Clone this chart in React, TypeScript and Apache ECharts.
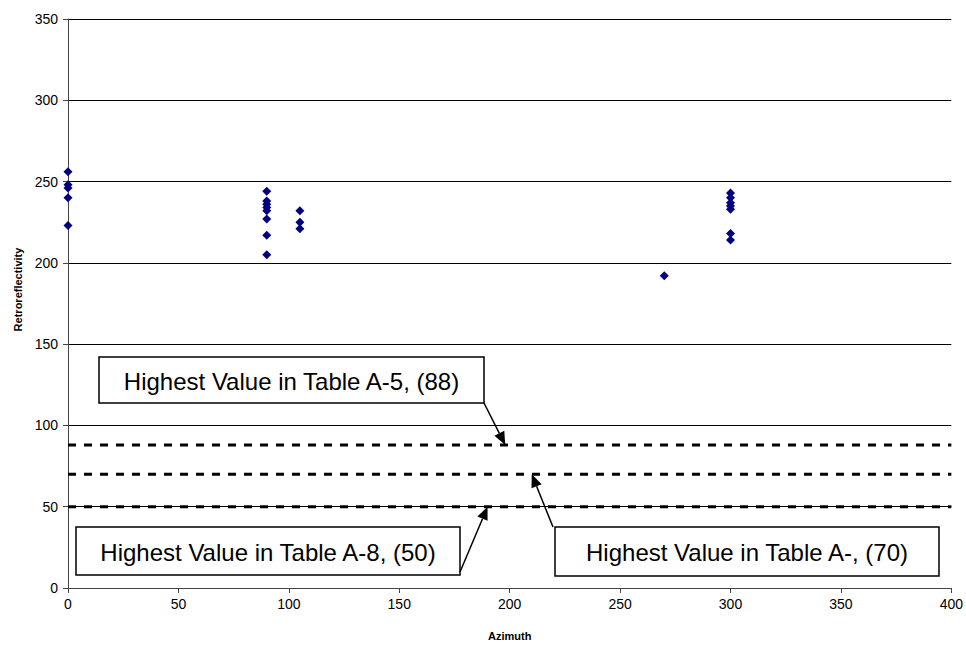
import React, { useEffect, useRef } from "react";
import * as echarts from "echarts";

const azimuthGroups = [0, 90, 105, 270, 300];
const retroValues: number[][] = [
  [256, 248, 246, 240, 223],
  [244, 238, 236, 234, 232, 227, 217, 205],
  [232, 225, 221],
  [192],
  [243, 240, 237, 235, 233, 218, 214],
];
const thresholdValues = [88, 70, 50];
const thresholdLabels = [
  "Highest Value in Table A-5, (88)",
  "Highest Value in Table A-, (70)",
  "Highest Value in Table A-8, (50)",
];
const arrowTipAzimuth = [198, 210, 190];
const yTicks = [0, 50, 100, 150, 200, 250, 300, 350];
const xTicks = [0, 50, 100, 150, 200, 250, 300, 350, 400];

export default function App() {
  const ref = useRef<HTMLDivElement>(null);
  useEffect(() => {
    if (!ref.current) return;
    const chart = echarts.init(ref.current, undefined, { renderer: "svg" });
    const points: number[][] = [];
    azimuthGroups.forEach((az, i) => retroValues[i].forEach((v) => points.push([az, v])));

    const lineSeries = thresholdValues.map((v) => ({
      type: "line",
      data: [[xTicks[0], v], [xTicks[xTicks.length - 1], v]],
      symbol: "none",
      lineStyle: { color: "#000", width: 3, type: [8, 8] },
      z: 3,
    }));

    chart.setOption({
      animation: false,
      grid: { left: 68, right: 14, top: 19, bottom: 53 },
      xAxis: {
        type: "value",
        min: xTicks[0],
        max: xTicks[xTicks.length - 1],
        interval: 50,
        name: "Azimuth",
        nameLocation: "middle",
        nameGap: 42,
        nameTextStyle: { fontFamily: "Liberation Sans", fontSize: 11, fontWeight: "bold", color: "#000" },
        axisLine: { lineStyle: { color: "#444", width: 1 } },
        axisTick: { inside: false, length: 5, lineStyle: { color: "#444" } },
        axisLabel: { fontFamily: "Liberation Sans", fontSize: 14, color: "#000", margin: 9 },
        splitLine: { show: false },
      },
      yAxis: {
        type: "value",
        min: yTicks[0],
        max: yTicks[yTicks.length - 1],
        interval: 50,
        name: "Retroreflectivity",
        nameLocation: "middle",
        nameGap: 44,
        nameTextStyle: {
          fontFamily: "Liberation Sans",
          fontSize: 11,
          fontWeight: "bold",
          color: "#000",
          padding: [0, 0, 0, 28],
        },
        axisLine: { show: true, lineStyle: { color: "#444", width: 1 } },
        axisTick: { show: true, inside: false, length: 5, lineStyle: { color: "#444" } },
        axisLabel: { fontFamily: "Liberation Sans", fontSize: 14, color: "#000", margin: 10 },
        splitLine: { show: true, lineStyle: { color: "#000", width: 1 } },
      },
      series: [
        {
          type: "scatter",
          data: points,
          symbol: "diamond",
          symbolSize: 9,
          itemStyle: { color: "#000080", opacity: 1 },
          z: 4,
        },
        ...lineSeries,
      ],
    });

    const boxes = [
      { x: 99, y: 357, w: 385, h: 46, tail: [484, 403] },
      { x: 555, y: 527, w: 384, h: 49, tail: [553, 527] },
      { x: 76, y: 527, w: 384, h: 48, tail: [460, 572] },
    ];
    const elements: any[] = [];
    boxes.forEach((b, i) => {
      const tip = chart.convertToPixel({ gridIndex: 0 }, [arrowTipAzimuth[i], thresholdValues[i]]);
      elements.push({
        type: "rect",
        shape: { x: b.x, y: b.y, width: b.w, height: b.h },
        style: { fill: "#fff", stroke: "#000", lineWidth: 1.5 },
        z: 10,
      });
      elements.push({
        type: "text",
        x: b.x + b.w / 2,
        y: b.y + b.h / 2 + 1,
        style: {
          text: thresholdLabels[i],
          fontFamily: "Liberation Sans",
          fontSize: 24,
          fill: "#000",
          align: "center",
          verticalAlign: "middle",
        },
        z: 11,
      });
      const [tx, ty] = b.tail;
      const [px, py] = tip;
      const dx = px - tx, dy = py - ty;
      const len = Math.sqrt(dx * dx + dy * dy);
      const ux = dx / len, uy = dy / len;
      const headLen = 13, headW = 5.5;
      const bx = px - ux * headLen, by = py - uy * headLen;
      elements.push({
        type: "line",
        shape: { x1: tx, y1: ty, x2: bx, y2: by },
        style: { stroke: "#000", lineWidth: 1.5 },
        z: 10,
      });
      elements.push({
        type: "polygon",
        shape: {
          points: [
            [px, py],
            [bx - uy * headW, by + ux * headW],
            [bx + uy * headW, by - ux * headW],
          ],
        },
        style: { fill: "#000" },
        z: 10,
      });
    });
    chart.setOption({ graphic: { elements } });

    return () => chart.dispose();
  }, []);
  return <div ref={ref} style={{ width: 966, height: 646, position: "absolute", left: 0, top: 0 }} />;
}
